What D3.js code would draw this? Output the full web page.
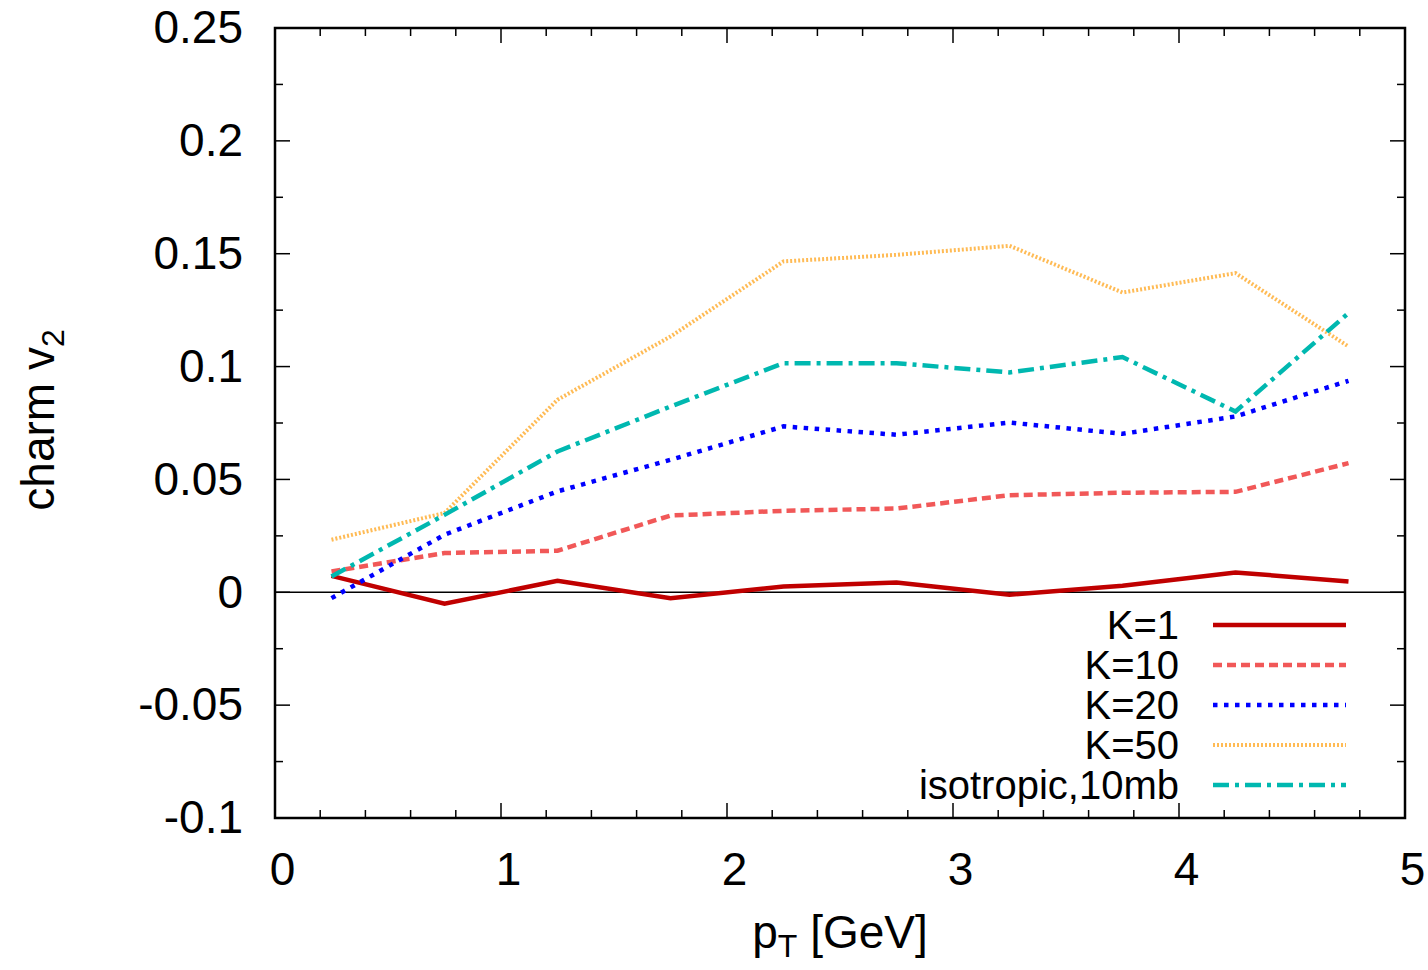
<!DOCTYPE html>
<html>
<head>
<meta charset="utf-8">
<script src="https://cdn.jsdelivr.net/npm/d3@7"></script>
<style>
  body { margin: 0; background: #fff; }
  svg { display: block; font-family: "Liberation Sans", Arial, sans-serif; }
  .tick text { font-size: 46px; fill: #000; }
</style>
</head>
<body>
<svg></svg>
<script>
// pT bin centres
var pt = [0.25, 0.75, 1.25, 1.75, 2.25, 2.75, 3.25, 3.75, 4.25, 4.75];

// charm v2 per setting
var k1 = [0.0073, -0.0051, 0.0051, -0.0026, 0.0026, 0.0043, -0.0011, 0.0029, 0.0088, 0.0048];
var k10 = [0.0092, 0.0174, 0.0184, 0.0340, 0.0361, 0.0371, 0.0430, 0.0441, 0.0445, 0.0572];
var k20 = [-0.0026, 0.0255, 0.0447, 0.0587, 0.0735, 0.0698, 0.0752, 0.0702, 0.0779, 0.0937];
var k50 = [0.0233, 0.0351, 0.0853, 0.1133, 0.1466, 0.1495, 0.1535, 0.1328, 0.1414, 0.1089];
var iso = [0.0070, 0.0343, 0.0624, 0.0823, 0.1015, 0.1015, 0.0974, 0.1042, 0.0801, 0.1237];

var names = ['K=1', 'K=10', 'K=20', 'K=50', 'isotropic,10mb'];
var xTicks = [0, 1, 2, 3, 4, 5];
var yTicks = [-0.1, -0.05, 0, 0.05, 0.1, 0.15, 0.2, 0.25];

var width = 1428,
    height = 970,
    margin = {left: 275, right: 23, top: 28, bottom: 152};

var svg = d3.select('svg')
    .attr('width', width)
    .attr('height', height);

var x = d3.scaleLinear().domain([0, 5]).range([margin.left, width - margin.right]),
    y = d3.scaleLinear().domain([-0.1, 0.25]).range([height - margin.bottom, margin.top]);

var x0 = x.range()[0], x1 = x.range()[1],
    y0 = y.range()[0], y1 = y.range()[1];

// styles for each series
var styles = [
    {color: '#c00000', w: 4.5, dash: null},
    {color: '#f15858', w: 4.5, dash: '9,5'},
    {color: '#0000ff', w: 4.5, dash: '4.5,6.5'},
    {color: '#ffbb55', w: 4, dash: '2,2'},
    {color: '#00b8b0', w: 4.5, dash: '16,6,4,6'}
];
var series = [k1, k10, k20, k50, iso];

// zero line
svg.append('line')
    .attr('x1', x0).attr('x2', x1)
    .attr('y1', y(0)).attr('y2', y(0))
    .attr('stroke', '#000')
    .attr('stroke-width', 1.5);

// major + minor ticks (inside, on all four sides)
var minorX = d3.range(0, 5.001, 0.2),
    minorY = d3.range(-0.1, 0.2501, 0.025);
var ticks = svg.append('g').attr('stroke', '#000').attr('stroke-width', 1.5);
minorX.forEach(function (v) {
    var big = Math.abs(v - Math.round(v)) < 1e-6, len = big ? 15 : 8;
    ticks.append('line').attr('x1', x(v)).attr('x2', x(v)).attr('y1', y0).attr('y2', y0 - len);
    ticks.append('line').attr('x1', x(v)).attr('x2', x(v)).attr('y1', y1).attr('y2', y1 + len);
});
minorY.forEach(function (v) {
    var big = Math.abs(v * 20 - Math.round(v * 20)) < 1e-6, len = big ? 15 : 8;
    ticks.append('line').attr('x1', x0).attr('x2', x0 + len).attr('y1', y(v)).attr('y2', y(v));
    ticks.append('line').attr('x1', x1).attr('x2', x1 - len).attr('y1', y(v)).attr('y2', y(v));
});

// axes, labels only
var xAxis = d3.axisBottom(x).tickValues(xTicks).tickSize(0).tickPadding(34).tickFormat(d3.format('d'));
var yAxis = d3.axisLeft(y).tickValues(yTicks).tickSize(0).tickPadding(32)
    .tickFormat(function (d) { return d === 0 ? '0' : String(+d.toFixed(2)); });

svg.append('g')
    .attr('class', 'axis axis-x')
    .attr('transform', 'translate(7,' + y0 + ')')
    .call(xAxis)
    .call(function (g) { g.select('.domain').remove(); });

svg.append('g')
    .attr('class', 'axis axis-y')
    .attr('transform', 'translate(' + x0 + ',0)')
    .call(yAxis)
    .call(function (g) { g.select('.domain').remove(); });

svg.selectAll('.tick text').attr('font-family', null).attr('font-size', null);

// curves
var line = d3.line()
    .x(function (d, i) { return x(pt[i]); })
    .y(function (d) { return y(d); });

svg.append('clipPath').attr('id', 'clip')
    .append('rect').attr('x', x0).attr('y', y1).attr('width', x1 - x0).attr('height', y0 - y1);

svg.append('g')
    .attr('clip-path', 'url(#clip)')
    .selectAll('.curve')
    .data(series)
    .enter().append('path')
    .attr('class', 'curve')
    .attr('fill', 'none')
    .attr('stroke', function (d, i) { return styles[i].color; })
    .attr('stroke-width', function (d, i) { return styles[i].w; })
    .attr('stroke-dasharray', function (d, i) { return styles[i].dash; })
    .attr('d', line);

// frame
svg.append('rect')
    .attr('x', x0).attr('y', y1)
    .attr('width', x1 - x0).attr('height', y0 - y1)
    .attr('fill', 'none')
    .attr('stroke', '#000')
    .attr('stroke-width', 2.5);

// legend
var legend = svg.append('g')
    .attr('class', 'legend')
    .selectAll('.li')
    .data(names)
    .enter().append('g')
    .attr('class', 'li')
    .attr('transform', function (d, i) { return 'translate(0,' + (625 + i * 40) + ')'; });

legend.append('text')
    .attr('x', 1179)
    .attr('y', 14)
    .attr('text-anchor', 'end')
    .attr('font-size', 40)
    .text(function (d) { return d; });

legend.append('line')
    .attr('x1', 1213).attr('x2', 1346)
    .attr('y1', 0).attr('y2', 0)
    .attr('stroke', function (d, i) { return styles[i].color; })
    .attr('stroke-width', function (d, i) { return styles[i].w; })
    .attr('stroke-dasharray', function (d, i) { return styles[i].dash; });

// axis titles
var xl = svg.append('text')
    .attr('x', 840)
    .attr('y', 948)
    .attr('text-anchor', 'middle')
    .attr('font-size', 46);
xl.append('tspan').text('p');
xl.append('tspan').attr('font-size', 32).attr('dy', 9).text('T');
xl.append('tspan').attr('dy', -9).text(' [GeV]');

var yl = svg.append('text')
    .attr('transform', 'translate(54,420) rotate(-90)')
    .attr('text-anchor', 'middle')
    .attr('font-size', 46);
yl.append('tspan').text('charm v');
yl.append('tspan').attr('font-size', 32).attr('dy', 10).text('2');
</script>
</body>
</html>
